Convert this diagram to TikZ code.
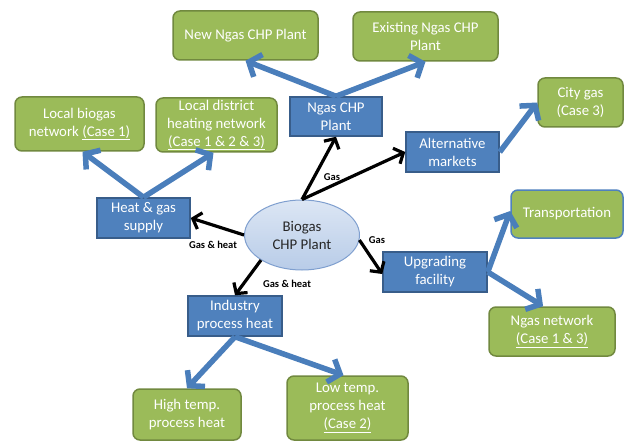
\documentclass[tikz,border=0pt]{standalone}
\usepackage{fontspec}
\setmainfont{Carlito}
\usetikzlibrary{arrows.meta,shapes.geometric,calc}
\definecolor{gfill}{HTML}{9BBB59}
\definecolor{gline}{HTML}{71893F}
\definecolor{bfill}{HTML}{4F81BD}
\definecolor{bline}{HTML}{385D8A}
\definecolor{arrblue}{HTML}{4A7EBB}
\definecolor{elltop}{HTML}{DCE6F4}
\definecolor{ellbot}{HTML}{B8CCE8}
\definecolor{ellline}{HTML}{7F9FCF}
\tikzset{
  greenbox/.style={draw=gline, line width=1.5pt, fill=gfill, rounded corners=7pt,
    text=white, align=center, inner sep=0pt, font=\fontsize{14.8}{18}\selectfont},
  bluebox/.style={draw=bline, line width=1.5pt, fill=bfill, text=white,
    align=center, inner sep=0pt, font=\fontsize{14.8}{18}\selectfont},
  bluearrow/.style={draw=arrblue, line width=5.5pt,
    -{Straight Barb[length=10pt,width=24pt,line width=5.5pt]}},
  blackarrow/.style={draw=black, line width=3.2pt,
    -{Straight Barb[length=7.5pt,width=17pt,line width=3.2pt]}},
  flowlabel/.style={font=\fontsize{10.5}{12}\selectfont\bfseries, text=black, inner sep=0pt}
}
\begin{document}
\begin{tikzpicture}[x=1pt,y=-1pt]
\useasboundingbox[fill=white] (0,0) rectangle (629,441);

% green boxes
\node[greenbox, minimum width=145pt, minimum height=49pt] (newN) at (245.5,35.5) {New Ngas CHP Plant};
\node[greenbox, minimum width=145pt, minimum height=49pt] (existN) at (425.5,36.5) {Existing Ngas CHP\\Plant};
\node[greenbox, minimum width=129pt, minimum height=54pt] (localB) at (79.5,124) {Local biogas\\network \underline{(Case 1)}};
\node[greenbox, minimum width=121pt, minimum height=54pt] (localD) at (216.5,125) {Local district\\heating network\\\underline{(Case 1 \& 2 \& 3)}};
\node[greenbox, minimum width=85pt, minimum height=49pt] (city) at (580.5,102.5) {City gas\\(Case 3)};
\node[greenbox, draw=bfill, minimum width=112pt, minimum height=48pt] (trans) at (567,214) {Transportation};
\node[greenbox, minimum width=126pt, minimum height=49pt] (ngasnet) at (552,331.5) {Ngas network\\\underline{(Case 1 \& 3)}};
\node[greenbox, minimum width=108pt, minimum height=51pt] (high) at (187,414.5) {High temp.\\process heat};
\node[greenbox, minimum width=121pt, minimum height=64pt] (low) at (347.5,408) {Low temp.\\process heat\\\underline{(Case 2)}};

% blue boxes
\node[bluebox, minimum width=92pt, minimum height=39pt] (ngasCHP) at (336,116.5) {Ngas CHP\\Plant};
\node[bluebox, minimum width=93pt, minimum height=40pt] (alt) at (452.5,152) {Alternative\\markets};
\node[bluebox, minimum width=93pt, minimum height=40pt] (heatgas) at (143.5,218) {Heat \& gas\\supply};
\node[bluebox, minimum width=104pt, minimum height=40pt] (upg) at (435,272) {Upgrading\\facility};
\node[bluebox, minimum width=94pt, minimum height=40pt] (industry) at (235,316) {Industry\\process heat};

% central ellipse
\node[ellipse, draw=ellline, line width=1pt, top color=elltop, bottom color=ellbot,
  minimum width=115pt, minimum height=70pt, inner sep=0pt, align=center,
  text=black!85, font=\fontsize{14.8}{18}\selectfont] (biogas) at (302,235) {Biogas\\CHP Plant};

% blue arrows
\draw[bluearrow] (ngasCHP.north) -- (newN.south);
\draw[bluearrow] (ngasCHP.north) -- (existN.south);
\draw[bluearrow] (heatgas.north) -- ([xshift=3pt]localB.south);
\draw[bluearrow] (heatgas.north) -- ([xshift=-3pt]localD.south);
\draw[bluearrow] (alt.east) -- (city.west);
\draw[bluearrow] (upg.east) -- ([yshift=3pt]trans.west);
\draw[bluearrow] (upg.east) -- ($(ngasnet.north west)!0.43!(ngasnet.north east)$);
\draw[bluearrow] (industry.south) -- (high.north);
\draw[bluearrow] (industry.south) -- ([xshift=-4pt]low.north);

% black arrows
\draw[blackarrow] (biogas.north) -- (ngasCHP.south);
\draw[blackarrow] (biogas.north) -- (alt.west);
\draw[blackarrow] (biogas.west) -- (heatgas.east);
\draw[blackarrow] (biogas.south west) -- (industry.north);
\draw[blackarrow] (biogas.-5) -- ([yshift=-2pt]upg.west);

% labels
\node[flowlabel] (lg1) at (332,177) {Gas};
\node[flowlabel] (lg2) at (213,245) {Gas \& heat};
\node[flowlabel] (lg3) at (287,284) {Gas \& heat};
\node[flowlabel] (lg4) at (377,240) {Gas};
\end{tikzpicture}
\end{document}
